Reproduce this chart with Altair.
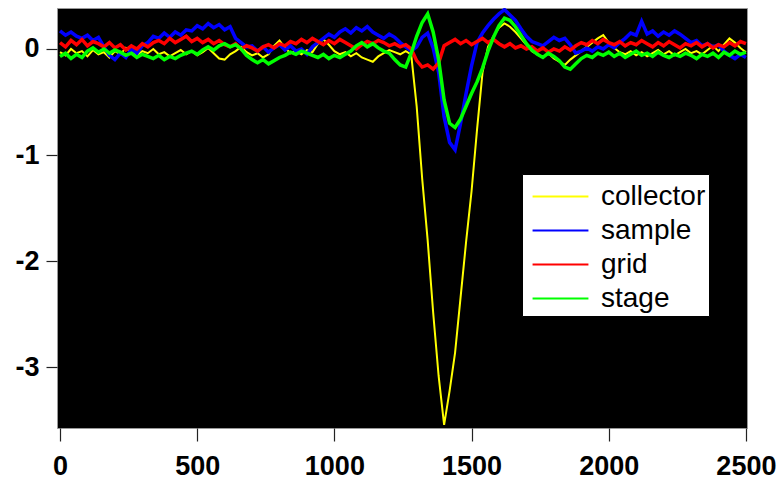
import altair as alt
import pandas as pd

# x positions (sampled every 20 units)
x_values = list(range(0, 2501, 20))

series_names = ["collector", "sample", "grid", "stage"]
series_colors = ["#FFFF00", "#0000FF", "#FF0000", "#00FF00"]

collector = [
    -0.03, -0.06, 0.00, -0.04, -0.02, -0.07, -0.01, -0.05, -0.03, -0.08,
    -0.02, -0.05, 0.01, -0.03, -0.06, -0.02, -0.04, 0.00, -0.05, -0.03,
    -0.07, -0.04, -0.01, -0.05, -0.02, -0.06, -0.03, 0.01, -0.04, -0.09,
    -0.10, -0.05, -0.02, 0.02, -0.03, -0.06, -0.04, -0.08, -0.05, 0.03,
    0.08, 0.01, -0.04, -0.02, -0.05, -0.01, -0.03, 0.05, 0.09, 0.04,
    -0.02, -0.05, -0.03, -0.07, -0.04, -0.08, -0.10, -0.12, -0.07, -0.04,
    -0.01, -0.03,
    -0.05, -0.02, -0.05, -0.54, -1.22, -1.80, -2.48, -3.08, -3.54, -3.22,
    -2.86, -2.34, -1.82, -1.34, -0.76, -0.22, 0.02, 0.12, 0.20, 0.24,
    0.21, 0.16, 0.10, 0.04, -0.02,
    -0.05, -0.08, -0.04, -0.09, -0.12, -0.15, -0.10, -0.06, -0.02, 0.02,
    0.06, 0.10, 0.13, 0.06, 0.01, -0.03, -0.05, -0.02, -0.06, -0.03,
    -0.07, -0.04, -0.01, -0.05, -0.02, -0.06, -0.03, 0.00, -0.04, -0.02,
    -0.05, -0.01, 0.03, -0.02, 0.04, 0.10, 0.06, 0.01, -0.03,
]

sample = [
    0.17, 0.13, 0.16, 0.12,
    0.10, 0.13, 0.08, 0.11,
    0.02, -0.06, -0.10, -0.04, -0.08,
    0.00, -0.04, 0.03, 0.06, 0.12,
    0.10, 0.15, 0.11, 0.16, 0.13, 0.18,
    0.17, 0.22, 0.19, 0.24, 0.20, 0.23, 0.18, 0.21,
    0.10, 0.06, 0.02,
    0.03, -0.02, 0.02, -0.03, 0.01, 0.04, -0.01, 0.03, -0.02, 0.00, -0.05, 0.02, 0.06, 0.10,
    0.14, 0.11,
    0.16, 0.19, 0.15, 0.20, 0.17, 0.21, 0.16,
    0.13, 0.10, 0.14, 0.11,
    0.06, 0.02, -0.02, 0.02, 0.11, 0.15, 0.01, -0.22, -0.64, -0.88,
    -0.95, -0.70, -0.42, -0.16, 0.06, 0.15, 0.22, 0.28, 0.33, 0.37,
    0.32, 0.27, 0.19, 0.12, 0.07, 0.05,
    0.03, 0.07, 0.11, 0.08, 0.10, 0.04,
    -0.04, -0.02,
    0.01, -0.02, 0.02, 0.00, 0.04, 0.01, 0.06, 0.10,
    0.15, 0.13, 0.26, 0.14, 0.17, 0.12, 0.16, 0.13, 0.17, 0.14, 0.10,
    0.06, 0.08, 0.03, 0.05, 0.02, 0.04,
    -0.02, -0.06, -0.09, -0.05, -0.08,
]

grid = [
    0.06, 0.02, 0.08, 0.04, 0.09, 0.03, 0.07, 0.05, 0.02, 0.06,
    0.01, 0.04, -0.01, 0.03, 0.00, 0.05, 0.02, 0.06,
    0.08, 0.05, 0.10, 0.06, 0.09, 0.12, 0.07, 0.10, 0.06, 0.09, 0.05, 0.08, 0.04,
    0.02, 0.05, 0.00, 0.03, 0.01, -0.02, 0.02, 0.04, 0.01, 0.05, 0.03, 0.07,
    0.05, 0.09, 0.06, 0.10, 0.07, 0.04, 0.08, 0.05, 0.09, 0.06, 0.03, 0.00,
    0.04, 0.07, 0.05, 0.08, 0.06, 0.03,
    0.05, 0.02, 0.04,
    0.00, -0.11, -0.17, -0.15, -0.19, -0.13, 0.03,
    0.06, 0.09, 0.05, 0.08, 0.04, 0.07, 0.10, 0.06, 0.09, 0.05,
    0.02, 0.05, 0.01, 0.03, 0.00, 0.02,
    -0.02, 0.01, -0.03, 0.00, -0.02, 0.02, -0.01,
    0.03, 0.06, 0.04, 0.08, 0.05, 0.09, 0.06, 0.04,
    0.07, 0.03, 0.06, 0.04, 0.08, 0.05, 0.02, 0.06, 0.03, 0.07,
    0.04, 0.01, 0.05, 0.03, 0.06, 0.02, 0.05, 0.01, 0.04, 0.02,
    0.06, 0.03, 0.07, 0.05,
]

stage = [
    -0.07, -0.04, -0.09, -0.05, -0.08,
    -0.02, 0.01, -0.03, 0.00, -0.04, -0.01, -0.03,
    -0.06, -0.04, -0.08, -0.05, -0.07,
    -0.09, -0.06, -0.10, -0.07, -0.09, -0.06, -0.04,
    -0.02, -0.05, -0.01, 0.02, -0.01, 0.03,
    0.05, 0.02, 0.04, 0.00,
    -0.06, -0.10, -0.13, -0.10, -0.14, -0.11, -0.08,
    -0.06, -0.03, -0.05, -0.02, -0.04, -0.06,
    -0.08, -0.05, -0.09, -0.06, -0.08, -0.05, -0.02,
    0.03, 0.06, 0.02, 0.05, 0.01,
    -0.02, -0.04, -0.10,
    -0.15, -0.17, -0.04, 0.12, 0.25, 0.33, 0.16, -0.10, -0.48, -0.70,
    -0.74, -0.66, -0.54, -0.42, -0.31, -0.18, -0.02, 0.11, 0.22, 0.29,
    0.27, 0.21, 0.13, 0.05, -0.01,
    -0.05, -0.08, -0.04, -0.07, -0.11,
    -0.17, -0.19, -0.14,
    -0.09, -0.06, -0.08, -0.04,
    -0.06, -0.03, -0.07, -0.04, -0.08, -0.05, -0.02, -0.06, -0.04, -0.07,
    -0.03, -0.06, -0.08, -0.05, -0.07, -0.04, -0.06, -0.09, -0.05, -0.07,
    -0.04, -0.08, -0.03, -0.06, -0.02, -0.05, -0.03,
]

x_ticks = [0, 500, 1000, 1500, 2000, 2500]
y_ticks = [0, -1, -2, -3]

rows = []
for name, vals in zip(series_names, [collector, sample, grid, stage]):
    for xv, v in zip(x_values, vals):
        rows.append({"x": xv, "value": v, "series": name})
df = pd.DataFrame(rows)

FONT = "Liberation Sans"

x_enc = alt.X(
    "x:Q",
    scale=alt.Scale(domain=[-11, 2504], nice=False, zero=False),
    axis=alt.Axis(
        values=x_ticks, title=None, grid=False, domain=False,
        tickSize=13, tickColor="#222", tickWidth=1.2,
        labelFont=FONT, labelFontSize=27, labelFontWeight="bold",
        labelColor="black", labelPadding=12, labelFlush=False,
        labelExpr="'' + datum.value",
    ),
)
y_enc = alt.Y(
    "value:Q",
    scale=alt.Scale(domain=[-3.57, 0.386], nice=False, zero=False),
    axis=alt.Axis(
        values=y_ticks, title=None, grid=False, domain=False,
        tickSize=11, tickColor="#222", tickWidth=1.2,
        labelFont=FONT, labelFontSize=27, labelFontWeight="bold",
        labelColor="black", labelPadding=7, labelFlush=False,
        labelExpr="'' + datum.value",
    ),
)
color_enc = alt.Color(
    "series:N",
    scale=alt.Scale(domain=series_names, range=series_colors),
    legend=alt.Legend(
        title=None, orient="none", legendX=465, legendY=166,
        symbolType="M-1.51,0L1.51,0", symbolSize=1369, symbolStrokeWidth=2,
        symbolOffset=16,
        labelFont=FONT, labelFontSize=28, labelColor="black",
        labelOffset=21, padding=3, rowPadding=0,
        labelExpr="datum.label + '\u00a0'",
        fillColor="white", strokeColor="black",
    ),
)

layers = []
for name in series_names:
    sw = 2 if name == "collector" else 3.5
    layers.append(
        alt.Chart(df)
        .transform_filter(alt.datum.series == name)
        .mark_line(strokeWidth=sw, clip=True, interpolate="linear")
        .encode(x=x_enc, y=y_enc, color=color_enc)
    )

chart = (
    alt.layer(*layers)
    .properties(
        width=690, height=420,
        padding={"left": 57, "top": 8, "right": 37, "bottom": 54},
        autosize=alt.AutoSizeParams(type="none"),
        background="white",
    )
    .configure_view(fill="black", stroke="#999999", strokeWidth=1)
)

chart.save("out.html", embed_options={"renderer": "svg", "actions": False})
